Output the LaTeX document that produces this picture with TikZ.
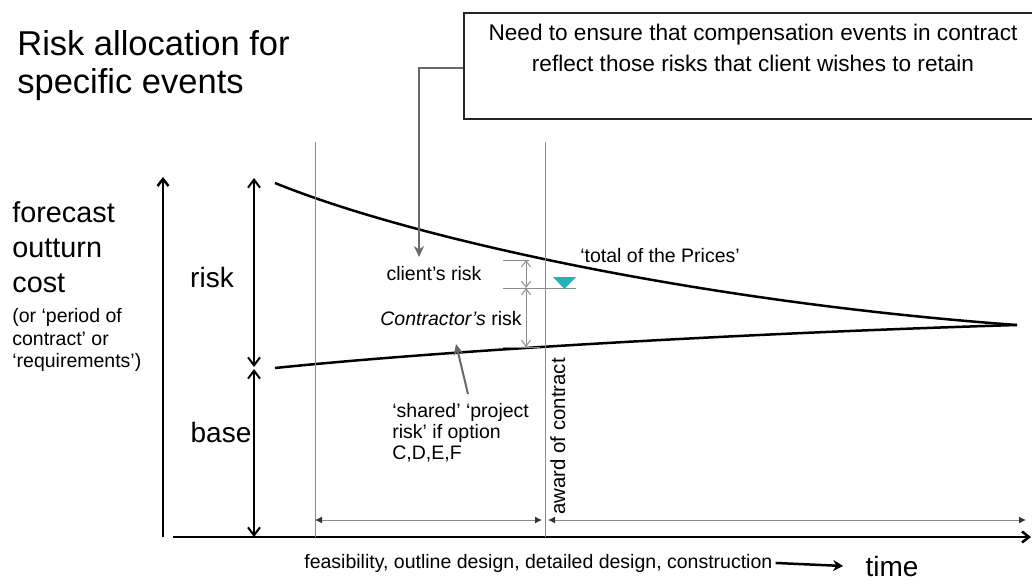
\documentclass[tikz,border=0pt]{standalone}
\usepackage{fontspec}
\setmainfont{Liberation Sans}
\usetikzlibrary{arrows.meta}

\definecolor{markcyan}{RGB}{38,176,184}
\definecolor{leadgray}{RGB}{105,105,105}
\definecolor{thingray}{RGB}{140,140,140}

\tikzset{every picture/.style={line width=0.75pt}}
\tikzset{
  smalltxt/.style={inner sep=0pt, font=\fontsize{19.5}{21}\selectfont},
  bigtxt/.style={inner sep=0pt, font=\fontsize{28}{35}\selectfont},
  titletxt/.style={inner sep=0pt, align=left, font=\fontsize{34.5}{38}\selectfont},
  boxtxt/.style={inner sep=0pt, align=center, font=\fontsize{22.6}{31}\selectfont},
  notebox/.style={draw=black!85, line width=2pt, minimum width=590pt, minimum height=106pt, inner sep=0pt},
  thinline/.style={draw=thingray, line width=1pt},
  dimline/.style={draw=thingray, line width=1pt, {Latex[length=7pt,width=7pt,black!80]}-{Latex[length=7pt,width=7pt,black!80]}},
  curveline/.style={line width=2.5pt},
  axisline/.style={line width=2.5pt, -{Straight Barb[length=7pt,width=11pt]}},
  spanarrow/.style={line width=2pt, {Straight Barb[length=8pt,width=12pt]}-{Straight Barb[length=8pt,width=12pt]}},
  riskarrow/.style={draw=thingray, line width=1pt, {Straight Barb[length=6pt,width=9pt]}-{Straight Barb[length=6pt,width=9pt]}},
  pointer/.style={draw=leadgray, line width=2pt, -{Stealth[length=11pt,width=10pt]}},
  timearrow/.style={line width=2.5pt, -{Stealth[length=10pt,width=11pt]}},
}

\begin{document}
\begin{tikzpicture}[x=1pt,y=1pt,yscale=-1,xscale=1]
	\useasboundingbox (0,0) rectangle (1032,580);
	\clip (0,0) rectangle (1032,580);

	% Text Node
	\node[titletxt, anchor=north west] (title) at (17,30) {Risk allocation for\\specific events};

	%Shape: Rectangle
	\node[notebox, anchor=north west] (note) at (463,12) {};
	% Text Node
	\node[boxtxt, anchor=north] (notetxt) at (753,24) {Need to ensure that compensation events in contract\\reflect those risks that client wishes to retain};

	%Straight Lines (axes)
	\coordinate (origin) at (163,537);
	\coordinate (ytop) at (163,177);
	\coordinate (xleft) at (173,537);
	\coordinate (xright) at (1031,537);
	\draw[axisline] (origin) -- (ytop);
	\draw[axisline] (xleft) -- (xright);

	%Straight Lines (risk and base)
	\coordinate (risktop) at (254,178);
	\coordinate (riskbot) at (254,367);
	\coordinate (basetop) at (254,369);
	\coordinate (basebot) at (254,537);
	\draw[spanarrow] (risktop) -- (riskbot);
	\draw[spanarrow] (basetop) -- (basebot);

	%Curve Lines
	\coordinate (upstart) at (275,183);
	\coordinate (lowstart) at (275,368);
	\coordinate (meet) at (1017,325);
	\draw[curveline] (upstart) .. controls (410,238) and (700,302) .. (meet);
	\draw[curveline] (lowstart) .. controls (450,350) and (750,333) .. (meet);

	%Straight Lines (stage lines)
	\coordinate (feastop) at (315,142);
	\coordinate (feasbot) at (315,537);
	\coordinate (awardtop) at (545,142);
	\coordinate (awardbot) at (545,537);
	\draw[thinline] (feastop) -- (feasbot);
	\draw[thinline] (awardtop) -- (awardbot);
	\draw[dimline] (315,520) -- (542,520);
	\draw[dimline] (548,520) -- (1026,520);

	%Straight Lines (risk split)
	\coordinate (pricetop) at (526,260);
	\coordinate (pricemid) at (526,288);
	\coordinate (pricebot) at (526,347);
	\draw[thinline] (503,260) -- (529,260);
	\draw[thinline] (503,288) -- (576,288);
	\draw[thinline] (503,347) -- (540,347);
	\draw[riskarrow] (pricetop) -- (pricemid);
	\draw[riskarrow] (pricemid) -- (pricebot);

	%Shape: Triangle
	\fill[markcyan] (553,277) -- (576,277) -- (564.5,289) -- cycle;

	% Text Node
	\node[bigtxt, anchor=north west, align=left, font=\fontsize{28.8}{35}\selectfont] (costlbl) at (12,201) {forecast\\outturn\\cost};
	% Text Node
	\node[smalltxt, anchor=north west, align=left, font=\fontsize{19.5}{22.5}\selectfont] (costnote) at (12,308) {(or ‘period of\\contract’ or\\‘requirements’)};
	% Text Node
	\node[bigtxt, anchor=base] (risklbl) at (212,287) {risk};
	% Text Node
	\node[bigtxt, anchor=base] (baselbl) at (221,442) {base};
	% Text Node
	\node[smalltxt, anchor=base] (clientlbl) at (434,280) {client’s risk};
	% Text Node
	\node[smalltxt, anchor=base east] (contrlbl) at (522,325) {\textit{Contractor’s} risk};
	% Text Node
	\node[smalltxt, anchor=base west] (pricelbl) at (580,262) {‘total of the Prices’};
	% Text Node
	\node[smalltxt, anchor=north west, align=left] (shared) at (392,403) {‘shared’ ‘project\\risk’ if option\\C,D,E,F};
	% Text Node
	\node[smalltxt, anchor=base west, rotate=90, font=\fontsize{20.4}{21}\selectfont] (awardlbl) at (565,515) {award of contract};
	% Text Node
	\node[smalltxt, anchor=base west] (phases) at (304,568) {feasibility, outline design, detailed design, construction};
	% Text Node
	\node[bigtxt, anchor=base] (timelbl) at (892,576) {time};

	%Straight Lines (pointers)
	\coordinate (clienttip) at (419,257);
	\coordinate (sharetail) at (468,394);
	\coordinate (sharetip) at (456,344);
	\draw[pointer] (note.west |- 0,68) -| (clienttip);
	\draw[pointer] (sharetail) -- (sharetip);
	\draw[timearrow] ([xshift=3pt]phases.east) -- ([xshift=-22pt]timelbl.west);

\end{tikzpicture}
\end{document}
